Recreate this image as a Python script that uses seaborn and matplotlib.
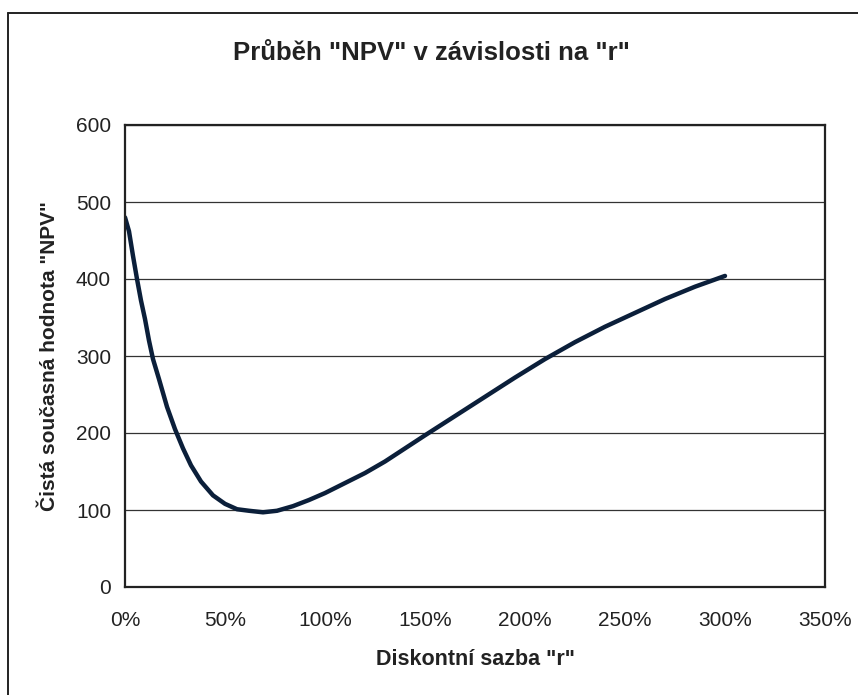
import numpy as np
import matplotlib
matplotlib.use("Agg")
import matplotlib.pyplot as plt
from matplotlib.lines import Line2D
from matplotlib.ticker import FuncFormatter
import pandas as pd
import seaborn as sns

# hodnoty
sazba_r = [0, 2, 4, 6, 8, 10, 12, 14, 17, 21, 25, 29, 33, 38, 44, 50, 56, 62, 69, 76, 84, 92,
           100, 110, 120, 130, 140, 150, 165, 180, 195, 210, 225, 240, 255, 270, 285, 300]
npv = [480, 462, 430, 400, 372, 348, 320, 296, 270, 234, 205, 180, 158, 137, 119, 108, 101, 99, 97, 99, 105, 113,
       122, 135, 148, 163, 180, 197, 222, 247, 272, 296, 318, 338, 356, 374, 390, 404]
y_ticks = [0, 100, 200, 300, 400, 500, 600]
x_ticks = [0, 50, 100, 150, 200, 250, 300, 350]

sns.set_style("white")
plt.rcParams['font.family'] = ['Liberation Sans', 'DejaVu Sans']

df = pd.DataFrame({"r": sazba_r, "NPV": npv})

fig = plt.figure(figsize=(8.58, 6.95), dpi=100)
ax = fig.add_axes([125 / 858, 1 - 587 / 695, 700 / 858, 462 / 695])

sns.lineplot(data=df, x="r", y="NPV", ax=ax, color="#0b1f3a", linewidth=3.2)

ax.set_xlim(0, 350)
ax.set_ylim(0, 600)
ax.set_xticks(x_ticks)
ax.set_yticks(y_ticks)
ax.xaxis.set_major_formatter(FuncFormatter(lambda v, p: "{:.0f}%".format(v)))
ax.yaxis.grid(True, color="#333333", linewidth=0.9)
ax.xaxis.grid(False)
for s in ax.spines.values():
    s.set_color("#222222")
    s.set_linewidth(1.6)
ax.tick_params(axis="both", labelsize=15, colors="#222222", direction="out", length=5, width=1)
ax.tick_params(axis="x", length=0, pad=17)
ax.tick_params(axis="y", pad=5)

ax.set_xlabel('Diskontní sazba "r"', fontsize=15.5, fontweight="bold", color="#222222", labelpad=14)
ax.set_ylabel('Čistá současná hodnota "NPV"', fontsize=15, fontweight="bold", color="#222222", labelpad=12)
fig.text(431 / 858, 1 - 53 / 695, 'Průběh "NPV" v závislosti na "r"', ha="center", va="center",
         fontsize=18.5, fontweight="bold", color="#222222")

# rámeček grafu
fig.add_artist(Line2D([8 / 858, 8 / 858], [0, 1 - 13 / 695], transform=fig.transFigure, color="#222222", linewidth=1.4))
fig.add_artist(Line2D([8 / 858, 1], [1 - 13 / 695, 1 - 13 / 695], transform=fig.transFigure, color="#222222", linewidth=1.4))

plt.savefig("out.png", dpi=100)
